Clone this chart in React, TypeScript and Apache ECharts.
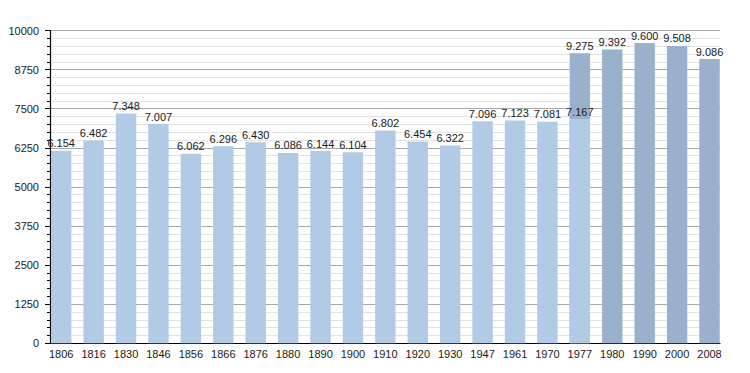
import React, { useEffect, useRef } from "react";
import * as echarts from "echarts";

const years = ["1806","1816","1830","1846","1856","1866","1876","1880","1890","1900","1910","1920","1930","1947","1961","1970","1977","1980","1990","2000","2008"];
const lightValues: (number | null)[] = [6154,6482,7348,7007,6062,6296,6430,6086,6144,6104,6802,6454,6322,7096,7123,7081,7167,null,null,null,null];
const darkValues: (number | null)[] = [null,null,null,null,null,null,null,null,null,null,null,null,null,null,null,null,9275,9392,9600,9508,9086];
const yTicks = { min: 0, max: 10000, interval: 1250 };

const fmt = (v: number) => {
  const s = String(Math.round(v));
  return s.length > 3 ? s.slice(0, s.length - 3) + "." + s.slice(-3) : s;
};

const FONT = "Liberation Sans, Arial, Helvetica, sans-serif";

export default function App() {
  const ref = useRef<HTMLDivElement>(null);
  useEffect(() => {
    if (!ref.current) return;
    const chart = echarts.init(ref.current, null, { renderer: "svg" });
    const label = {
      show: true,
      position: "top" as const,
      distance: 2,
      color: "#1a1a1a",
      fontSize: 11,
      fontFamily: FONT,
      formatter: (p: any) => fmt(p.value),
    };
    chart.setOption({
      animation: false,
      backgroundColor: "#ffffff",
      grid: [
        { left: 61.2, right: 40.5, top: 30.5, bottom: 29.7 },
        { left: 50, right: 30, top: 30.5, bottom: 29.7 },
      ],
      xAxis: [
        {
          type: "category",
          gridIndex: 0,
          data: years,
          boundaryGap: false,
          axisLine: { show: false },
          axisTick: { show: false },
          axisLabel: { color: "#1a1a1a", fontSize: 11, fontFamily: FONT, margin: 5, interval: 0 },
          splitLine: { show: false },
        },
        {
          type: "value",
          gridIndex: 1,
          min: 0,
          max: 1,
          axisLine: { show: true, lineStyle: { color: "#000", width: 1.2 } },
          axisTick: { show: false },
          axisLabel: { show: false },
          splitLine: { show: false },
        },
      ],
      yAxis: [
        {
          type: "value",
          gridIndex: 0,
          min: yTicks.min,
          max: yTicks.max,
          interval: yTicks.interval,
          axisLine: { show: false },
          axisTick: { show: false },
          axisLabel: { show: false },
          splitLine: { show: false },
        },
        {
          type: "value",
          gridIndex: 1,
          min: yTicks.min,
          max: yTicks.max,
          interval: yTicks.interval,
          axisLine: { show: true, lineStyle: { color: "#000", width: 1.2 } },
          axisTick: { show: true, inside: false, length: 5, lineStyle: { color: "#000" } },
          minorTick: { show: true, splitNumber: 5, length: 3, lineStyle: { color: "#000" } },
          axisLabel: { color: "#1a1a1a", fontSize: 11, fontFamily: FONT, margin: 11, formatter: (v: number) => String(v) },
          splitLine: { show: true, lineStyle: { color: "#a8a8a8", width: 1 } },
          minorSplitLine: { show: true, lineStyle: { color: "#e2e2e2", width: 1 } },
        },
      ],
      series: [
        {
          type: "bar",
          xAxisIndex: 0,
          yAxisIndex: 0,
          data: darkValues,
          barWidth: 20.4,
          barGap: "-100%",
          itemStyle: { color: "#99b1cd" },
          label,
          z: 3,
        },
        {
          type: "bar",
          xAxisIndex: 0,
          yAxisIndex: 0,
          data: lightValues,
          barWidth: 20.4,
          barGap: "-100%",
          itemStyle: { color: "#b1cae5" },
          label,
          z: 4,
        },
      ],
    });
    return () => chart.dispose();
  }, []);
  return <div ref={ref} style={{ position: "absolute", left: 0, top: 0, width: 750, height: 373 }} />;
}
